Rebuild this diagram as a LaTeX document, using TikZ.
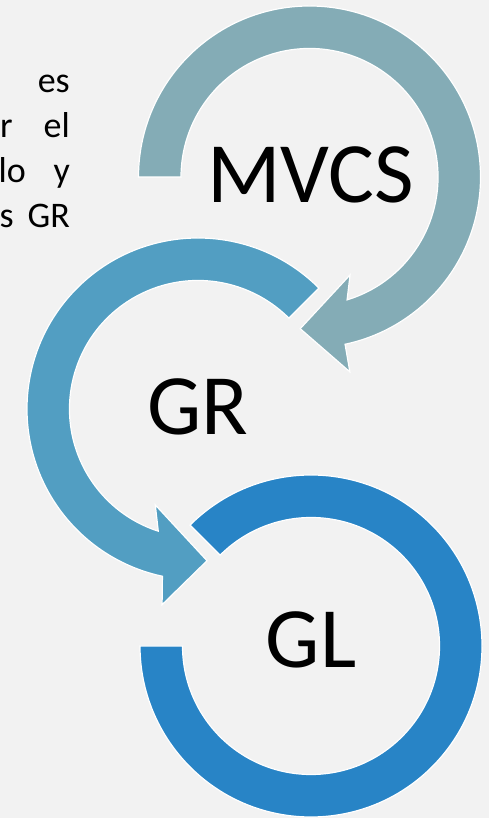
\documentclass[tikz,border=0pt]{standalone}
\usepackage{fontspec}
\setmainfont{Carlito}
\usetikzlibrary{calc,
                positioning}
\definecolor{cycA}{HTML}{84ACB6}
\definecolor{cycB}{HTML}{529EC2}
\definecolor{cycC}{HTML}{2884C6}
\definecolor{paper}{HTML}{F2F2F2}

\begin{document}
\begin{tikzpicture}[x=1pt, y=1pt,
                    ring/.style={draw=white, line width=1.2pt},
                    ring_label/.style={inner sep=0, font=\fontsize{86}{90}\selectfont},
                    word/.style={inner sep=0, anchor=base east, font=\fontsize{36}{42}\selectfont}
                    ]
        \newdimen\Ri
        \newdimen\Ro
        \Ri=128.5pt
        \Ro=171pt
        \fill[paper] (0,0) rectangle (489,818);
        \clip (0,0) rectangle (489,818);

        \coordinate (Cm) at (309.5,641);
        \coordinate (Cr) at (198,409);
        \coordinate (Cl) at (311,172);

        % GL ring, open at the upper left
        \begin{scope}[shift={(Cl)}]
        \filldraw[ring, fill=cycC] (135:\Ro) arc[start angle=135, end angle=-180, radius=\Ro]
            -- (180:\Ri) arc[start angle=-180, end angle=135, radius=\Ri] -- cycle;
        \end{scope}

        % GR arrow, counter-clockwise
        \begin{scope}[shift={(Cr)}]
        \filldraw[ring, fill=cycB] (45:\Ro) arc[start angle=45, end angle=258, radius=\Ro]
            -- (259.6:199) -- (273.4:152) -- (246:105) -- (252:\Ri)
            arc[start angle=252, end angle=45, radius=\Ri] -- cycle;
        \end{scope}

        % MVCS arrow, clockwise
        \begin{scope}[shift={(Cm)}]
        \filldraw[ring, fill=cycA] (180:\Ro) arc[start angle=180, end angle=-78, radius=\Ro]
            -- (-78.3:199) -- (-93.5:152) -- (-67.5:106) -- (-73:\Ri)
            arc[start angle=-73, end angle=180, radius=\Ri] -- cycle;
        \end{scope}

        \node[ring_label] (mvcs) at (310.5,643) {MVCS};
        \node[ring_label] (gr) at (197.5,411.5) {GR};
        \node[ring_label] (gl) at (311,178) {GL};

        % cut-off paragraph on the left
        \node[word] (w1) at (70,725) {es};
        \node[word, anchor=base west] (w2a) at (0,680) {r};
        \node[word] (w2b) at (70,680) {el};
        \node[word] (w3a) at (26,635) {lo};
        \node[word] (w3b) at (70,635) {y};
        \node[word] (w4a) at (14,590) {s};
        \node[word] (w4b) at (70,590) {GR};
\end{tikzpicture}
\end{document}
